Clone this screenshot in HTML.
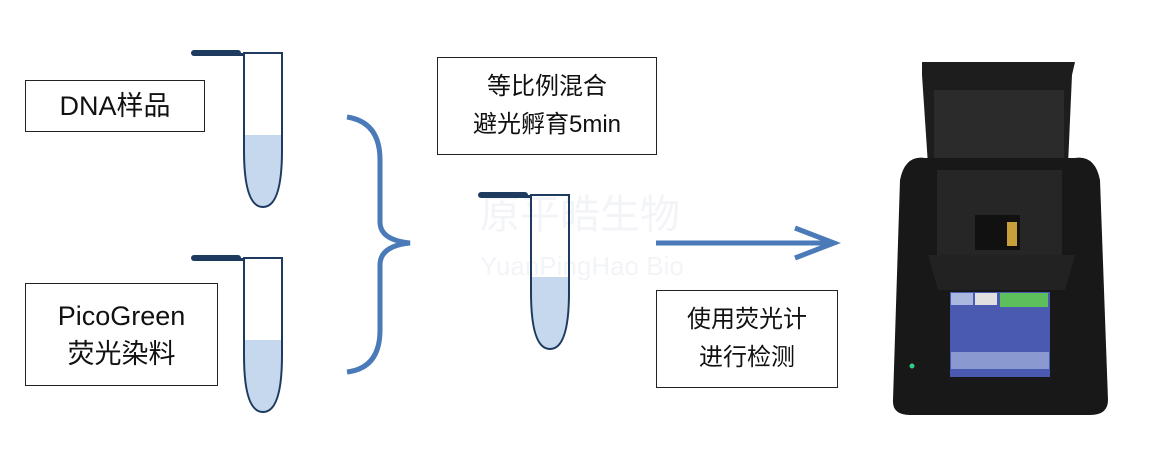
<!DOCTYPE html>
<html><head><meta charset="utf-8"><style>
body{margin:0;background:#fff;width:1155px;height:460px;overflow:hidden;position:relative;font-family:"Liberation Sans","Noto Sans CJK SC",sans-serif}
.b{position:absolute;border:1.3px solid #222;box-sizing:border-box;display:flex;align-items:center;justify-content:center;text-align:center;font-size:27px;line-height:38px;color:#111}
.m{font-size:24px;line-height:38px}
</style></head><body>
<svg width="1155" height="460" style="position:absolute;left:0;top:0">
<text x="480" y="228" font-size="40" fill="#f3f4f7" font-family="Noto Sans CJK SC,sans-serif">原平皓生物</text>
<text x="480" y="275" font-size="26" fill="#f3f4f7" font-family="Liberation Sans,sans-serif">YuanPingHao Bio</text>
<g id="t">
<rect x="191" y="50" width="50" height="6" rx="3" fill="#1f3a5f"/>
<rect x="230" y="53" width="14" height="3" fill="#1f3a5f"/>
<path d="M244.5 135 L281.5 135 L281.5 150 Q281 207 263 207 Q245 207 244.5 150 Z" fill="#c5d8ee"/>
<path d="M244 53 L282 53 L282 150 Q282 207 263 207 Q244 207 244 150 Z" fill="none" stroke="#1f3a5f" stroke-width="2"/>
</g>
<use href="#t" transform="translate(0,205)"/>
<use href="#t" transform="translate(287,142)"/>
<path d="M347 117 Q380 122 380 160 L380 222 Q380 240 410 243 Q380 246 380 265 L380 330 Q380 368 347 372" fill="none" stroke="#4a7ab8" stroke-width="5"/>
<line x1="656" y1="243" x2="832" y2="243" stroke="#4a7ab8" stroke-width="5"/>
<path d="M795 228 L834 243 L795 258" fill="none" stroke="#4a7ab8" stroke-width="5"/>
<path d="M922 62 L1075 62 L1072 75 L1068 165 L928 165 L922 75 Z" fill="#1d1d1d"/>
<rect x="934" y="90" width="130" height="75" fill="#2b2b2b"/>
<path d="M900 180 Q905 155 925 158 L1075 158 Q1095 155 1100 180 L1108 400 Q1108 415 1090 415 L910 415 Q892 415 893 400 Z" fill="#181818"/>
<rect x="937" y="170" width="125" height="85" fill="#262626"/>
<rect x="975" y="215" width="45" height="35" fill="#111"/>
<rect x="1007" y="222" width="10" height="24" fill="#c8a03a"/>
<path d="M928 255 L1075 255 L1065 290 L938 290 Z" fill="#222"/>
<rect x="950" y="292" width="100" height="85" fill="#4a5ab0"/>
<rect x="951" y="293" width="22" height="12" fill="#aab8e0"/>
<rect x="975" y="293" width="22" height="12" fill="#e0e0e0"/>
<rect x="1000" y="293" width="48" height="14" fill="#5cbf5c"/>
<rect x="951" y="352" width="98" height="17" fill="#8a9ad0"/>
<circle cx="912" cy="366" r="2.5" fill="#3c8"/>
</svg>
<div class="b" style="left:25px;top:80px;width:180px;height:52px">DNA样品</div>
<div class="b" style="left:25px;top:283px;width:193px;height:103px">PicoGreen<br>荧光染料</div>
<div class="b m" style="left:437px;top:57px;width:220px;height:98px">等比例混合<br>避光孵育5min</div>
<div class="b m" style="left:656px;top:290px;width:182px;height:98px">使用荧光计<br>进行检测</div>
</body></html>
